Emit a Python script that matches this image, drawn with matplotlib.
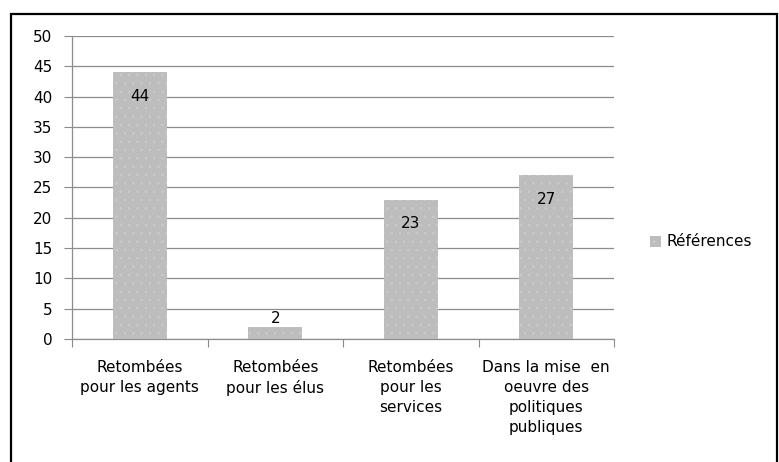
import matplotlib
matplotlib.use("Agg")
import matplotlib.pyplot as plt
from matplotlib.patches import Rectangle

# data
categories = ["Retombées\npour les agents", "Retombées\npour les élus",
              "Retombées\npour les\nservices",
              "Dans la mise  en\noeuvre des\npolitiques\npubliques"]
values = [44, 2, 23, 27]
series_name = "Références"
y_ticks = [0, 5, 10, 15, 20, 25, 30, 35, 40, 45, 50]

W, H = 779, 462
fig = plt.figure(figsize=(W / 100, H / 100), dpi=100)
fig.patch.set_facecolor("white")

# outer frame (bottom edge cut off in the original)
fig.add_artist(Rectangle((11 / W, -0.05), (777 - 11) / W, 1.05 - 14 / H,
                         transform=fig.transFigure, fill=False,
                         edgecolor="black", linewidth=1.6))

ax = fig.add_axes([72 / W, 1 - 339 / H, (614 - 72) / W, (339 - 36) / H])

plt.rcParams['hatch.linewidth'] = 0.6
x = range(len(categories))
bars = ax.bar(x, values, width=0.4, color="#bdbdbd", hatch="..",
              edgecolor="#cbcbcb", linewidth=0, label=series_name, zorder=3)

for xi, v in zip(x, values):
    if v > 5:
        ax.text(xi, v - 4.0, str(v), ha="center", va="center",
                fontsize=11, color="black", zorder=4)
    else:
        ax.text(xi, v + 0.1, str(v), ha="center", va="bottom",
                fontsize=11, color="black", zorder=4)

ax.set_xlim(-0.5, len(categories) - 0.5)
ax.set_ylim(0, 50)
ax.set_yticks(y_ticks)
ax.set_yticklabels([str(t) for t in y_ticks], fontsize=11)
ax.yaxis.grid(True, color="#8c8c8c", linewidth=0.9, zorder=0)
ax.set_axisbelow(True)

ax.set_xticks([i - 0.5 for i in range(len(categories) + 1)], minor=False)
ax.set_xticklabels([""] * (len(categories) + 1))
ax.set_xticks(list(x), minor=True)
ax.set_xticklabels(categories, minor=True, fontsize=11, linespacing=1.42)
ax.tick_params(axis="x", which="minor", length=0, pad=15)
ax.tick_params(axis="x", which="major", length=6, color="#8c8c8c")
ax.tick_params(axis="y", length=6, color="#8c8c8c", pad=8)

for s in ["top", "right"]:
    ax.spines[s].set_visible(False)
for s in ["left", "bottom"]:
    ax.spines[s].set_color("#8c8c8c")
    ax.spines[s].set_linewidth(0.9)

ax.legend(loc="center left", bbox_to_anchor=((650 - 72) / (614 - 72), (339 - 242) / (339 - 36)),
          frameon=False, fontsize=11, handlelength=0.75, handleheight=0.75,
          handletextpad=0.3, borderpad=0, borderaxespad=0)

fig.savefig("out.png", dpi=100)
